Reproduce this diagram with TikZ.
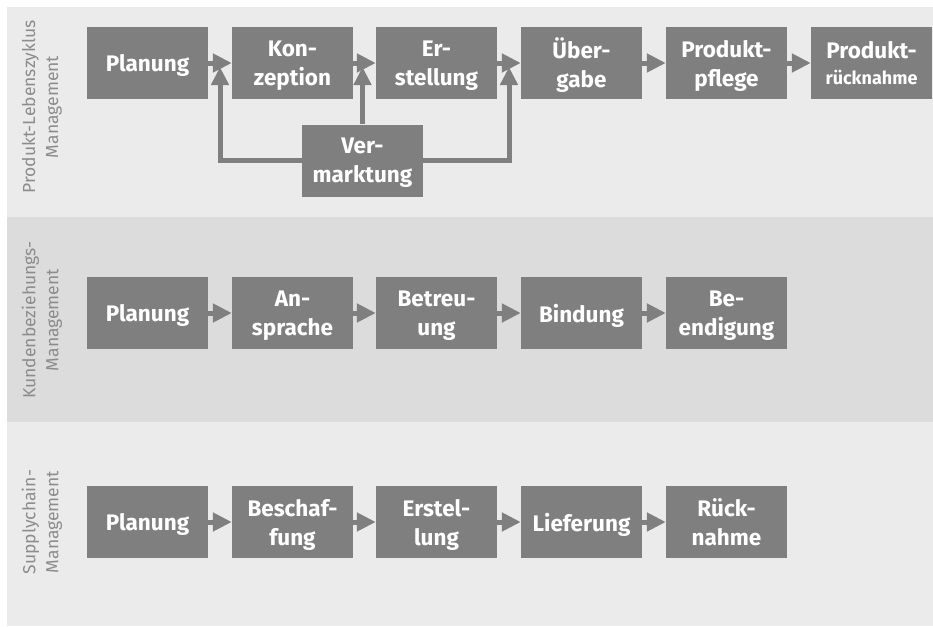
\documentclass[tikz,border=0pt]{standalone}
\usepackage{fontspec}
\setmainfont{Fira Sans}
\usetikzlibrary{arrows.meta}
\definecolor{bandA}{HTML}{EBEBEB}
\definecolor{bandB}{HTML}{DCDCDC}
\definecolor{boxgray}{HTML}{7F7F7F}
\definecolor{labgray}{HTML}{8C8C8C}
\tikzset{
  proc/.style={fill=boxgray, draw=none, minimum width=121pt, minimum height=72pt, inner sep=0pt,
    text=white, align=center, text depth=0pt, font=\bfseries\fontsize{22.5}{29}\selectfont},
  flow/.style={draw=boxgray, line width=5pt, -{Triangle[length=19pt,width=18pt]}},
  feed/.style={draw=boxgray, line width=5pt, -{Triangle[length=18pt,width=17pt]}},
  lane/.style={rotate=90, text=labgray, align=center, font=\fontsize{17.5}{23}\selectfont}
}
\begin{document}
\begin{tikzpicture}[x=1pt,y=-1pt]
\useasboundingbox (0,0) rectangle (933,626);
\fill[white] (0,0) rectangle (933,626);
\fill[bandA] (7,7) rectangle (933,217);
\fill[bandB] (7,217) rectangle (933,422);
\fill[bandA] (7,422) rectangle (933,626);

\node[lane] (l1) at (42,107) {Produkt-Lebenszyklus\\Management};
\node[lane] (l2) at (42,320) {Kundenbeziehungs-\\Management};
\node[lane] (l3) at (42,522) {Supplychain-\\Management};

% row 1
\node[proc] (a1) at (147.5,63) {Planung};
\node[proc] (a2) at (292.5,63) {Kon-\\zeption};
\node[proc] (a3) at (436.5,63) {Er-\\stellung};
\node[proc] (a4) at (581.5,63) {Über-\\gabe};
\node[proc] (a5) at (726.5,63) {Produkt-\\pflege};
\node[proc] (a6) at (871.5,63) {Produkt-\\[-3pt]{\fontsize{18}{22}\selectfont rücknahme}};
\node[proc] (vm) at (362.5,160.5) {Ver-\\marktung};
\foreach \i/\j in {a1/a2,a2/a3,a3/a4,a4/a5,a5/a6} \draw[flow] (\i) -- (\j);
\coordinate (tL) at (220,67);
\coordinate (tR) at (509,67);
\coordinate (tM) at (362.5,67);
\draw[feed] (vm.west) -| (tL);
\draw[feed] (vm.north) -- (tM);
\draw[feed] (vm.east) -| (tR);

% row 2
\node[proc] (b1) at (147.5,313) {Planung};
\node[proc] (b2) at (292.5,313) {An-\\sprache};
\node[proc] (b3) at (436.5,313) {Betreu-\\ung};
\node[proc] (b4) at (581.5,313) {Bindung};
\node[proc] (b5) at (726.5,313) {Be-\\endigung};
\foreach \i/\j in {b1/b2,b2/b3,b3/b4,b4/b5} \draw[flow] (\i) -- (\j);

% row 3
\node[proc] (c1) at (147.5,522) {Planung};
\node[proc] (c2) at (292.5,522) {Beschaf-\\fung};
\node[proc] (c3) at (436.5,522) {Erstel-\\lung};
\node[proc] (c4) at (581.5,522) {Lieferung};
\node[proc] (c5) at (726.5,522) {Rück-\\nahme};
\foreach \i/\j in {c1/c2,c2/c3,c3/c4,c4/c5} \draw[flow] (\i) -- (\j);
\end{tikzpicture}
\end{document}
